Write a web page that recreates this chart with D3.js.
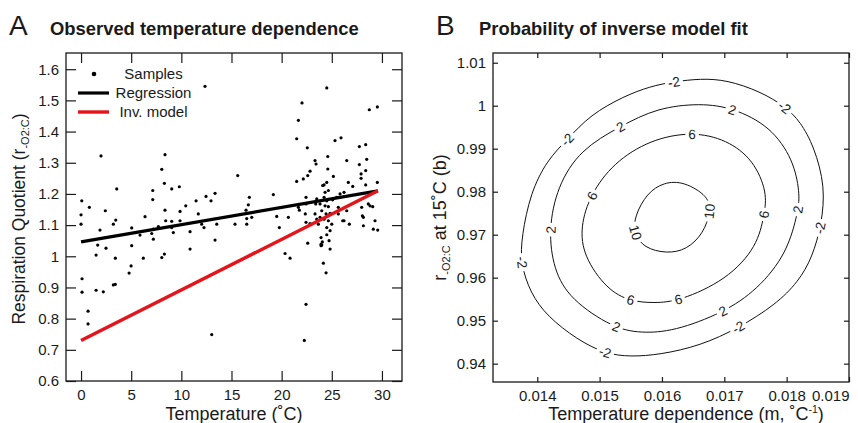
<!DOCTYPE html>
<html>
<head>
<meta charset="utf-8">
<script src="https://cdn.jsdelivr.net/npm/d3@7"></script>
<style>
body { margin: 0; background: #fff; }
svg text { font-family: "Liberation Sans", Arial, Helvetica, sans-serif; fill: #1a1a1a; }
</style>
</head>
<body>
<svg id="fig" width="858" height="423"></svg>
<script>
// ---- panel A data: temperature (C), respiration quotient ----
const samples = [
  [12.36,1.545],[1.99,1.322],[8.05,1.279],[8.37,1.326],[8.31,1.234],[7.15,1.211],[7.15,1.182],
  [9.04,1.216],[9.80,1.223],[3.56,1.216],[0.07,1.178],[0.83,1.157],[0.0,1.133],[2.42,1.146],
  [0.0,1.103],[3.46,1.116],[3.22,1.103],[6.38,1.127],[8.37,1.148],[9.87,1.144],[10.44,1.162],
  [11.47,1.178],[12.46,1.192],[12.96,1.178],[13.36,1.202],[8.44,1.114],[9.04,1.112],[9.87,1.114],
  [11.69,1.136],[12.03,1.103],[12.26,1.092],[13.53,1.103],[1.89,1.084],[5.05,1.091],[7.05,1.073],
  [7.21,1.087],[7.71,1.095],[9.04,1.092],[9.20,1.076],[10.87,1.079],[5.88,1.068],[13.36,1.052],
  [1.66,1.036],[2.49,1.026],[5.05,1.034],[10.87,1.023],
  [1.50,1.004],[8.31,1.007],[8.05,0.996],[3.42,0.994],[6.21,0.994],[4.99,0.969],[4.79,0.946],
  [0.10,0.928],[3.42,0.910],[3.22,0.908],[0.10,0.885],[1.50,0.891],[2.22,0.886],[0.70,0.824],
  [0.70,0.783],[13.03,0.749],[7.21,1.055],
  [24.50,1.540],[22.03,1.492],[21.67,1.436],[28.74,1.470],[29.54,1.479],[21.50,1.377],[25.32,1.371],
  [25.92,1.380],[22.56,1.348],[27.75,1.352],[28.38,1.358],[24.60,1.320],[28.48,1.311],[23.33,1.307],
  [23.43,1.296],[26.49,1.307],[27.75,1.294],[24.60,1.280],[22.83,1.273],[28.38,1.275],[22.60,1.259],
  [22.16,1.248],[25.16,1.256],[27.92,1.264],[27.92,1.250],[15.62,1.259],[21.50,1.240],[26.65,1.237],
  [27.09,1.224],[28.38,1.229],[29.54,1.237],[24.09,1.227],[19.17,1.198],[16.78,1.189],[16.68,1.165],
  [16.45,1.148],[16.52,1.121],[17.02,1.125],[16.52,1.103],[15.35,1.103],[19.51,1.128],[20.67,1.125],
  [19.77,1.092],[21.67,1.157],[21.77,1.148],[22.43,1.189],[22.43,1.168],[22.36,1.136],[22.43,1.109],
  [22.83,1.105],[22.60,1.042],[23.93,1.060],[24.06,1.046],[24.00,1.036],[24.73,1.050],[23.50,1.184],
  [23.40,1.168],[24.23,1.229],[24.50,1.237],[24.66,1.211],[24.33,1.205],[24.23,1.189],[24.50,1.178],
  [23.83,1.168],[24.33,1.162],[24.66,1.159],[24.00,1.146],[24.43,1.136],[24.83,1.138],[23.33,1.136],
  [23.83,1.125],[24.23,1.119],[24.66,1.114],[25.00,1.103],[24.50,1.092],[24.83,1.082],[23.66,1.103],
  [23.50,1.119],[25.09,1.181],[25.49,1.189],[25.82,1.200],[26.22,1.205],[25.65,1.157],[26.09,1.114],
  [26.22,1.114],[26.75,1.103],[25.65,1.136],[26.49,1.146],[27.98,1.157],[28.05,1.130],[28.15,1.125],
  [28.64,1.168],[28.81,1.162],[29.08,1.159],[29.31,1.114],[29.14,1.087],[29.58,1.084],[28.15,1.098],
  [24.50,1.069],[23.93,1.039],[23.93,1.034],[24.83,1.023],[20.34,1.009],[20.84,0.994],[24.16,0.978],
  [24.43,0.947],[22.43,0.846],[22.26,0.730]
];
const regT = [0, 29.6], regRQ = [1.046, 1.21];
const invT = [0, 29.6], invRQ = [0.73, 1.21];
const tempTicks = [0, 5, 10, 15, 20, 25, 30];
const rqTicks = [0.6, 0.7, 0.8, 0.9, 1.0, 1.1, 1.2, 1.3, 1.4, 1.5, 1.6];
const legendLabels = ["Samples", "Regression", "Inv. model"];

// ---- panel B data: contour lines of log probability (m, b) ----
const contourLevels = [-2, 2, 6, 10];
const contourNeg2 = [[0.01448,0.9921],[0.01485,0.9979],[0.01539,1.0022],[0.01581,1.0045],[0.01619,1.0056],
  [0.01662,1.0063],[0.01704,1.0060],[0.01758,1.0033],[0.01798,0.9998],[0.01822,0.9963],[0.01844,0.9905],
  [0.01862,0.9812],[0.01856,0.9723],[0.01841,0.9647],[0.01819,0.9591],[0.01782,0.9537],[0.01723,0.9483],
  [0.01662,0.9442],[0.01597,0.9421],[0.01549,0.9416],[0.01509,0.9423],[0.01464,0.9456],[0.01416,0.9510],
  [0.01389,0.9564],[0.01373,0.9634],[0.01375,0.9696],[0.01389,0.9797],[0.01416,0.9874]];
const contourPos2 = [[0.01592,0.9995],[0.01662,1.0006],[0.01714,0.9995],[0.01774,0.9952],[0.01811,0.9874],
  [0.01821,0.9797],[0.01819,0.9758],[0.01801,0.9657],[0.01753,0.9572],[0.01699,0.9519],[0.01619,0.9475],
  [0.01565,0.9471],[0.01522,0.9483],[0.01453,0.9549],[0.01426,0.9619],[0.01418,0.9712],[0.01432,0.9812],
  [0.01469,0.9898],[0.01533,0.9952]];
const contour6 = [[0.01648,0.9940],[0.01704,0.9921],[0.01747,0.9874],[0.01769,0.9797],[0.01764,0.9747],
  [0.01753,0.9673],[0.01704,0.9595],[0.01627,0.9545],[0.01587,0.9541],[0.01549,0.9545],[0.01512,0.9572],
  [0.01474,0.9650],[0.01469,0.9719],[0.01485,0.9793],[0.01522,0.9867],[0.01581,0.9921]];
const contour10 = [[0.01635,0.9824],[0.01675,0.9789],[0.01678,0.9754],[0.01667,0.9704],[0.01640,0.9665],
  [0.01608,0.9656],[0.01571,0.9669],[0.01555,0.9704],[0.01556,0.9743],[0.01576,0.9797],[0.01603,0.9822]];
const labelsNeg2 = [[0.01619,1.0054],[0.01798,0.9998],[0.01853,0.9716],[0.01723,0.9484],[0.01509,0.9426],[0.01373,0.9635],[0.01448,0.9921]];
const labelsPos2 = [[0.01714,0.9995],[0.01819,0.9758],[0.01699,0.9519],[0.01525,0.9481],[0.01418,0.9712],[0.01533,0.9952]];
const labels6 = [[0.01648,0.9940],[0.01764,0.9747],[0.01627,0.9545],[0.01549,0.9545],[0.01485,0.9793]];
const labels10 = [[0.01678,0.9754],[0.01555,0.9704]];
const slopeTicks = [0.014, 0.015, 0.016, 0.017, 0.018, 0.019];
const interceptTicks = [0.94, 0.95, 0.96, 0.97, 0.98, 0.99, 1.0, 1.01];

const svg = d3.select("#fig");
const ink = "#1a1a1a";

function frame(x, y, box, xt, yt, tlen, fx, fy) {
  const g = svg.append("g").attr("color", ink);
  const gx = g.append("g").attr("transform", "translate(0," + box.bottom + ")")
    .call(d3.axisBottom(x).tickValues(xt).tickSizeInner(-tlen).tickSizeOuter(0).tickPadding(8).tickFormat(fx));
  g.append("g").attr("transform", "translate(0," + box.top + ")")
    .call(d3.axisTop(x).tickValues(xt).tickSizeInner(-tlen).tickSizeOuter(0).tickFormat(""));
  g.append("g").attr("transform", "translate(" + box.left + ",0)")
    .call(d3.axisLeft(y).tickValues(yt).tickSizeInner(-tlen).tickSizeOuter(0).tickPadding(7).tickFormat(fy));
  g.append("g").attr("transform", "translate(" + box.right + ",0)")
    .call(d3.axisRight(y).tickValues(yt).tickSizeInner(-tlen).tickSizeOuter(0).tickFormat(""));
  g.selectAll(".domain").remove();
  g.selectAll(".tick line").attr("stroke-width", 1.2);
  g.selectAll(".tick text").attr("font-size", 15);
  g.append("rect").attr("x", box.left).attr("y", box.top)
    .attr("width", box.right - box.left).attr("height", box.bottom - box.top)
    .attr("fill", "none").attr("stroke", ink).attr("stroke-width", 1.3);
  return gx;
}

// ================= Panel A =================
const A = {left: 66, right: 402, top: 53, bottom: 381};
const xA = d3.scaleLinear().domain([-1.5, 32]).range([A.left, A.right]);
const yA = d3.scaleLinear().domain([0.6, 1.652]).range([A.bottom, A.top]);

svg.append("g").selectAll("circle").data(samples).enter()
  .append("circle")
    .attr("cx", d => xA(d[0]))
    .attr("cy", d => yA(d[1]))
    .attr("r", 1.6)
    .attr("fill", "#000");

const lineA = d3.line().x(d => xA(d[0])).y(d => yA(d[1]));
svg.append("path").datum(d3.zip(regT, regRQ)).attr("d", lineA)
  .attr("stroke", "#000").attr("stroke-width", 3.2).attr("fill", "none");
svg.append("path").datum(d3.zip(invT, invRQ)).attr("d", lineA)
  .attr("stroke", "#e5141b").attr("stroke-width", 3.4).attr("fill", "none");

frame(xA, yA, A, tempTicks, rqTicks, 10, d => d, d => +d.toFixed(1));

// legend
const leg = svg.append("g");
leg.append("circle").attr("cx", 94).attr("cy", 74).attr("r", 2.3).attr("fill", "#000");
leg.append("line").attr("x1", 78).attr("x2", 109).attr("y1", 93).attr("y2", 93)
  .attr("stroke", "#000").attr("stroke-width", 3.2);
leg.append("line").attr("x1", 78).attr("x2", 109).attr("y1", 112).attr("y2", 112)
  .attr("stroke", "#e5141b").attr("stroke-width", 3.4);
leg.selectAll("text").data(legendLabels).enter().append("text")
  .attr("x", 153.5).attr("y", (d, i) => 78.5 + i * 19)
  .attr("text-anchor", "middle").attr("font-size", 15).text(d => d);

// titles A
svg.append("text").attr("x", 9).attr("y", 35).attr("font-size", 28).text("A");
svg.append("text").attr("x", 50).attr("y", 34.5).attr("font-size", 18.4).attr("font-weight", "bold")
  .text("Observed temperature dependence");
svg.append("text").attr("x", (A.left + A.right) / 2).attr("y", 419.5).attr("text-anchor", "middle")
  .attr("font-size", 18).text("Temperature (\u02DAC)");
const ylA = svg.append("text").attr("transform", "translate(25," + ((A.top + A.bottom) / 2 + 2) + ") rotate(-90)")
  .attr("text-anchor", "middle").attr("font-size", 17.5);
ylA.append("tspan").text("Respiration Quotient (r");
ylA.append("tspan").attr("font-size", 11).attr("dy", 4).text("-O2:C");
ylA.append("tspan").attr("dy", -4).text(")");

// ================= Panel B =================
const B = {left: 493, right: 849, top: 53, bottom: 382};
const xB = d3.scaleLinear().domain([0.01329, 0.019]).range([B.left, B.right]);
const yB = d3.scaleLinear().domain([0.93574, 1.01226]).range([B.bottom, B.top]);

svg.append("clipPath").attr("id", "clipB").append("rect")
  .attr("x", B.left).attr("y", B.top).attr("width", B.right - B.left).attr("height", B.bottom - B.top);

const lineB = d3.line().x(d => xB(d[0])).y(d => yB(d[1])).curve(d3.curveBasisClosed);
const contours = [
  {level: contourLevels[0], pts: contourNeg2, labels: labelsNeg2},
  {level: contourLevels[1], pts: contourPos2, labels: labelsPos2},
  {level: contourLevels[2], pts: contour6, labels: labels6},
  {level: contourLevels[3], pts: contour10, labels: labels10}
];
const gC = svg.append("g").attr("clip-path", "url(#clipB)");
const gL = svg.append("g");
contours.forEach(c => {
  const path = gC.append("path").datum(c.pts).attr("d", lineB)
    .attr("fill", "none").attr("stroke", "#111").attr("stroke-width", 1);
  const node = path.node(), L = node.getTotalLength();
  c.labels.forEach(p => {
    const px = xB(p[0]), py = yB(p[1]);
    let best = 0, bd = Infinity;
    for (let l = 0; l < L; l += 0.5) {
      const q = node.getPointAtLength(l);
      const dd = (q.x - px) * (q.x - px) + (q.y - py) * (q.y - py);
      if (dd < bd) { bd = dd; best = l; }
    }
    const q = node.getPointAtLength(best);
    const a = node.getPointAtLength((best - 3 + L) % L), b = node.getPointAtLength((best + 3) % L);
    let ang = Math.atan2(b.y - a.y, b.x - a.x) * 180 / Math.PI;
    if (ang > 90) ang -= 180;
    if (ang <= -90) ang += 180;
    const lab = gL.append("g").attr("transform", "translate(" + q.x + "," + q.y + ") rotate(" + ang + ")");
    const t = lab.append("text").attr("text-anchor", "middle").attr("dy", "0.36em")
      .attr("font-size", 13.5).text(c.level);
    const w = t.node().getComputedTextLength();
    lab.insert("rect", "text").attr("x", -w / 2 - 3).attr("y", -4).attr("width", w + 6).attr("height", 8)
      .attr("fill", "#fff");
  });
});

const gxB = frame(xB, yB, B, slopeTicks, interceptTicks, 5, d => +d.toFixed(3), d => +d.toFixed(2));
// last slope label sits inside the figure edge
gxB.selectAll(".tick text").filter(d => d === slopeTicks[slopeTicks.length - 1])
  .attr("text-anchor", "end").attr("x", 0);

svg.append("text").attr("x", 436).attr("y", 35).attr("font-size", 28).text("B");
svg.append("text").attr("x", 479).attr("y", 34.5).attr("font-size", 18.4).attr("font-weight", "bold")
  .text("Probability of inverse model fit");
const xlB = svg.append("text").attr("x", 686).attr("y", 419.5).attr("text-anchor", "middle").attr("font-size", 18);
xlB.append("tspan").text("Temperature dependence (m, \u02DAC");
xlB.append("tspan").attr("font-size", 10.5).attr("dy", -6.5).text("-1");
xlB.append("tspan").attr("dy", 6.5).text(")");
const ylB = svg.append("text").attr("transform", "translate(446," + ((B.top + B.bottom) / 2) + ") rotate(-90)")
  .attr("text-anchor", "middle").attr("font-size", 18);
ylB.append("tspan").text("r");
ylB.append("tspan").attr("font-size", 11).attr("dy", 4).text("-O2:C");
ylB.append("tspan").attr("dy", -4).text(" at 15\u02DAC (b)");
</script>
</body>
</html>
